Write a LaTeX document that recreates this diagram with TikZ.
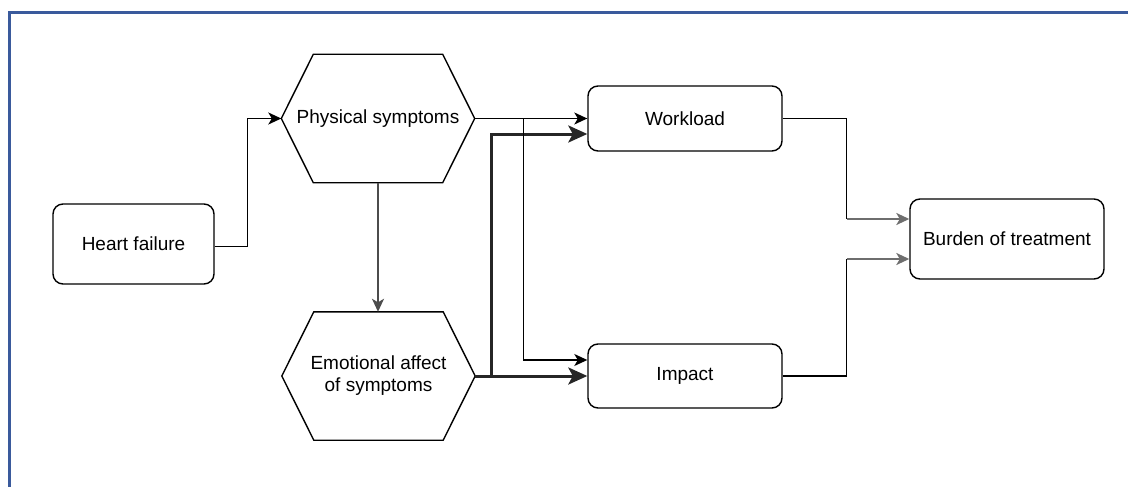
\documentclass[tikz,border=0pt]{standalone}
\usepackage{fontspec}
\setmainfont{Liberation Sans}
\usetikzlibrary{arrows.meta,calc}
\definecolor{frameblue}{RGB}{58,90,156}
\definecolor{lgray}{RGB}{110,110,110}
\begin{document}
\begin{tikzpicture}[x=1pt,y=-1pt,
  box/.style={draw,line width=1.4pt,rounded corners=10pt,align=center,font=\fontsize{19}{22}\selectfont,inner sep=0pt},
  hexnode/.style={draw=none,minimum width=193pt,minimum height=128pt,align=center,font=\fontsize{19}{22}\selectfont,inner sep=0pt},
  hexline/.style={line width=1.4pt},
  thin/.style={line width=1.4pt,-{Stealth[length=13pt,width=12pt,inset=3.5pt]}},
  thinplain/.style={line width=1.4pt},
  thick/.style={line width=3pt,draw=black!85,-{Stealth[length=19pt,width=17pt,inset=4.5pt]}},
  grayarr/.style={line width=2.2pt,draw=lgray,-{Stealth[length=13pt,width=12pt,inset=3.5pt]}},
  framestyle/.style={line width=2.5pt,draw=frameblue}]
\useasboundingbox (0,0) rectangle (1128,487);
\draw[framestyle] (9.5,500) -- (9.5,12.5) -- (1140,12.5);

\node[box,minimum width=161pt,minimum height=80pt] (hf) at (133.5,244) {Heart failure};
\node[hexnode] (ps) at (378,118.5) {Physical symptoms};
\node[hexnode] (ea) at (378.5,376) {Emotional affect\\of symptoms};
\node[box,minimum width=194pt,minimum height=65pt] (wl) at (685,118.5) {Workload};
\node[box,minimum width=194pt,minimum height=64pt] (im) at (685,376) {Impact};
\node[box,minimum width=194pt,minimum height=80pt] (bt) at (1007,239) {Burden of treatment};

\foreach \n in {ps,ea}{
  \draw[hexline] (\n.west) -- ([xshift=32pt]\n.north west) -- ([xshift=-32pt]\n.north east)
    -- (\n.east) -- ([xshift=-32pt]\n.south east) -- ([xshift=32pt]\n.south west) -- cycle;
}

% Heart failure -> Physical symptoms
\draw[thin] ([yshift=-2.5pt]hf.east) -- ++(32.5,0) |- (ps.west);
% Physical -> Emotional
\draw[line width=1.6pt,draw=black!70,-{Stealth[length=13pt,width=12pt,inset=3.5pt]}] (ps.south) -- (ps.south |- ea.north);
% Emotional -> Workload (thick)
\draw[thick] (ea.east) -- ++(16.5,0) |- ([yshift=-15.5pt]wl.west);
% Emotional -> Impact (thick)
\draw[thick] (ea.east) -- (im.west);
% Physical -> Workload
\draw[thin] (ps.east) -- (wl.west);
% Physical -> Impact
\draw[thin] (ps.east) -- ++(49,0) |- ([yshift=16pt]im.west);
% Workload -> Burden
\coordinate (w1) at ($(wl.east)+(64,0)$);
\coordinate (w2) at (w1 |- {$(bt.west)+(0,-20)$});
\draw[thinplain] (wl.east) -- (w1) -- (w2);
\draw[grayarr] (w2) -- ([yshift=20pt]bt.west);
% Impact -> Burden
\coordinate (i1) at ($(im.east)+(64,0)$);
\coordinate (i2) at (i1 |- {$(bt.west)+(0,20)$});
\draw[thinplain] (im.east) -- (i1) -- (i2);
\draw[grayarr] (i2) -- ([yshift=-20pt]bt.west);
\end{tikzpicture}
\end{document}
